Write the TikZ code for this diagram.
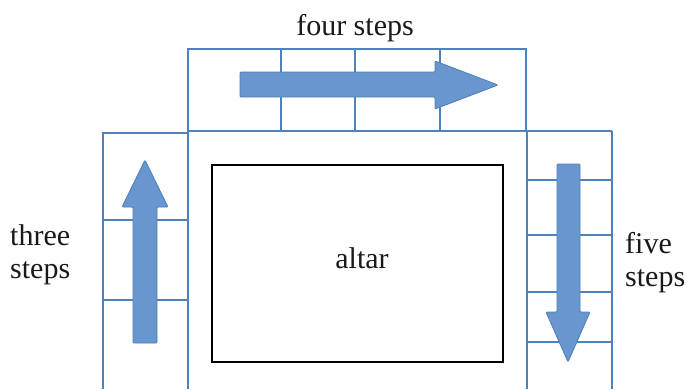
\documentclass[tikz,border=0pt]{standalone}
\usepackage{fontspec}
\setmainfont{Liberation Serif}
\newfontfamily\capfont{Liberation Serif}
\definecolor{gridblue}{RGB}{79,129,189}
\definecolor{arrowfill}{RGB}{104,150,206}
\definecolor{arrowedge}{RGB}{79,125,180}
\begin{document}
\begin{tikzpicture}[x=1pt,y=-1pt,
  grid/.style={draw=gridblue,line width=1.3pt},
  walk/.style={fill=arrowfill,draw=arrowedge,line width=0.8pt,rounded corners=1pt},
  caption/.style={font=\capfont\fontsize{30}{34}\selectfont,inner sep=0pt,text=black!90}]
\useasboundingbox (0,0) rectangle (687,389);
% upper flight: four steps
\draw[grid] (188,49) rectangle (526,131);
\draw[grid] (281,49) -- (281,131) (355,49) -- (355,131) (440,49) -- (440,131);
% line along the top of the side flights
\draw[grid] (188,131) -- (612,131);
% left flight: three steps
\draw[grid] (188,131) -- (188,389) (103,389) -- (103,133) -- (188,133);
\draw[grid] (103,220) -- (188,220) (103,300) -- (188,300);
% right flight: five steps
\draw[grid] (527,131) -- (527,389) (612,131) -- (612,389);
\draw[grid] (527,180) -- (612,180) (527,235) -- (612,235)
            (527,292) -- (612,292) (527,342) -- (612,342);
% direction of walking
\filldraw[walk] (133,343) -- (157,343) -- (157,207) -- (168,207) -- (145,160)
  -- (122,207) -- (133,207) -- cycle;
\filldraw[walk] (240,72) -- (435,72) -- (435,61) -- (498,85) -- (435,109)
  -- (435,97) -- (240,97) -- cycle;
\filldraw[walk] (557,164) -- (580,164) -- (580,312) -- (590,312) -- (568,362)
  -- (546,312) -- (557,312) -- cycle;
% the altar
\node[draw=black,line width=2.6pt,minimum width=291pt,minimum height=197pt,
  inner sep=0pt] (altar) at (357.5,263.5) {};
\node[caption,anchor=base] (altarname) at (362,268) {altar};
% captions
\node[caption,anchor=base] (four) at (355,35) {four steps};
\node[caption,anchor=base west] (three1) at (10,245) {three};
\node[caption,anchor=base west] (three2) at (10,278) {steps};
\node[caption,anchor=base west] (five1) at (625,253) {five};
\node[caption,anchor=base west] (five2) at (625,286) {steps};
\end{tikzpicture}
\end{document}
